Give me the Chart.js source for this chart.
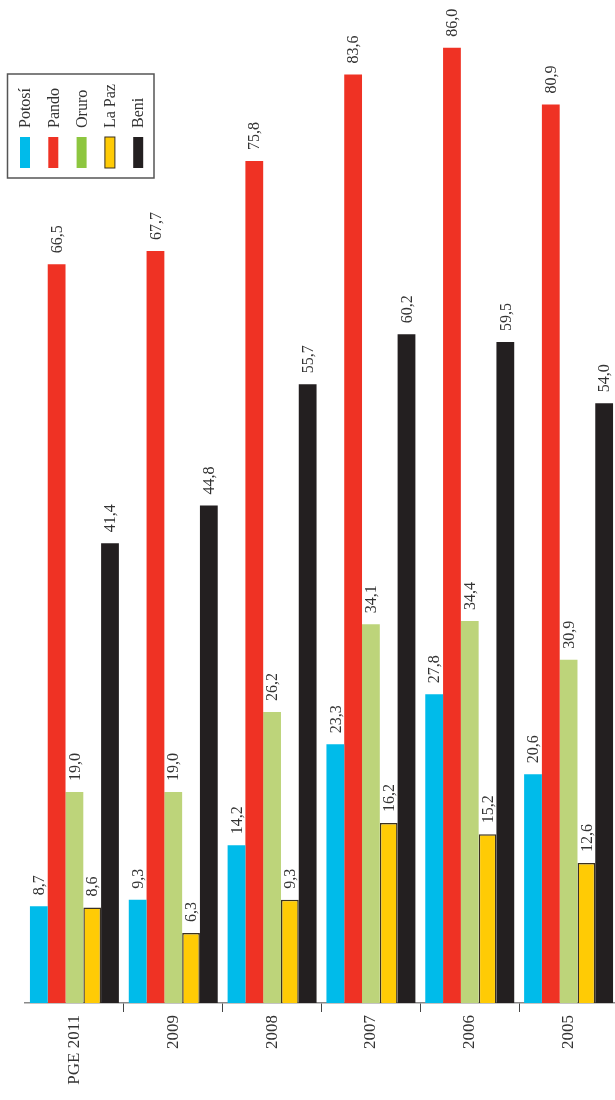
<!DOCTYPE html>
<html>
<head>
<meta charset="utf-8">
<script src="https://cdn.jsdelivr.net/npm/chart.js@4"></script>
<style>
  html, body { margin: 0; padding: 0; background: #fff; overflow: hidden; }
  canvas { display: block; }
</style>
</head>
<body>
<canvas id="chart" width="620" height="1100"></canvas>
<script>
const categories = ['PGE 2011', '2009', '2008', '2007', '2006', '2005'];
const seriesNames = ['Potosí', 'Pando', 'Oruro', 'La Paz', 'Beni'];

const potosi = [8.7, 9.3, 14.2, 23.3, 27.8, 20.6];
const pando = [66.5, 67.7, 75.8, 83.6, 86.0, 80.9];
const oruro = [19.0, 19.0, 26.2, 34.1, 34.4, 30.9];
const laPaz = [8.6, 6.3, 9.3, 16.2, 15.2, 12.6];
const beni = [41.4, 44.8, 55.7, 60.2, 59.5, 54.0];

const barColors = ['#00bbea', '#ef3224', '#bdd47a', '#ffcb05', '#231f20'];
const legendColors = ['#00bbea', '#ef3224', '#8dc63f', '#ffcb05', '#231f20'];

const seriesValues = [potosi, pando, oruro, laPaz, beni];

// value labels, rotated, above each bar
const valueLabels = {
    id: 'valueLabels',
    afterDatasetsDraw(chart) {
        const ctx = chart.ctx;
        ctx.save();
        ctx.font = '16px "Liberation Serif", serif';
        ctx.fillStyle = '#333';
        ctx.textAlign = 'left';
        ctx.textBaseline = 'middle';
        chart.data.datasets.forEach((ds, i) => {
            chart.getDatasetMeta(i).data.forEach((bar, j) => {
                const txt = ds.data[j].toFixed(1).replace('.', ',');
                ctx.save();
                ctx.translate(bar.x + 1, bar.y - 11);
                ctx.rotate(-Math.PI / 2);
                ctx.fillText(txt, 0, 0);
                ctx.restore();
            });
        });
        ctx.restore();
    }
};

// rotated legend in the top-left corner
const rotatedLegend = {
    id: 'rotatedLegend',
    afterDraw(chart) {
        const ctx = chart.ctx;
        ctx.save();
        ctx.strokeStyle = '#555';
        ctx.lineWidth = 1.5;
        ctx.strokeRect(7.5, 74, 146.5, 104);
        ctx.font = '16px "Liberation Serif", serif';
        ctx.fillStyle = '#333';
        ctx.textAlign = 'left';
        ctx.textBaseline = 'middle';
        chart.data.datasets.forEach((ds, i) => {
            const cx = 25 + i * 28.3;
            ctx.fillStyle = legendColors[i];
            ctx.fillRect(cx - 5, 137, 10, 31);
            if (ds.borderWidth) {
                ctx.strokeStyle = '#3a3020';
                ctx.lineWidth = 1;
                ctx.strokeRect(cx - 5, 137, 10, 31);
            }
            ctx.save();
            ctx.translate(cx + 1, 128);
            ctx.rotate(-Math.PI / 2);
            ctx.fillStyle = '#333';
            ctx.fillText(ds.label, 0, 0);
            ctx.restore();
        });
        ctx.restore();
    }
};

const datasets = seriesNames.map((name, i) => ({
    label: name,
    data: seriesValues[i],
    backgroundColor: barColors[i],
    borderColor: '#3a3020',
    borderWidth: name === 'La Paz' ? 1.5 : 0,
    borderSkipped: 'bottom',
    categoryPercentage: 0.9,
    barPercentage: 1.0
}));

const ctx = document.getElementById('chart').getContext('2d');
new Chart(ctx, {
    type: 'bar',
    data: { labels: categories, datasets: datasets },
    options: {
        responsive: false,
        animation: false,
        layout: { padding: { left: 25, right: 2, top: 0, bottom: 0 } },
        plugins: {
            legend: { display: false },
            tooltip: { enabled: false }
        },
        scales: {
            x: {
                z: 1,
                afterFit(scale) { scale.height = 97; },
                border: { display: true, color: 'rgba(60,60,60,0.6)', width: 1.5 },
                grid: {
                    display: true,
                    drawOnChartArea: false,
                    drawTicks: true,
                    tickLength: 9,
                    lineWidth: 1,
                    color: (c) => c.index === 0 ? 'rgba(0,0,0,0)' : '#444'
                },
                ticks: {
                    minRotation: 90,
                    maxRotation: 90,
                    padding: 3,
                    color: '#333',
                    font: { family: '"Liberation Serif", serif', size: 17 }
                }
            },
            y: {
                display: false,
                min: 0,
                max: 90.3
            }
        }
    },
    plugins: [valueLabels, rotatedLegend]
});
</script>
</body>
</html>
